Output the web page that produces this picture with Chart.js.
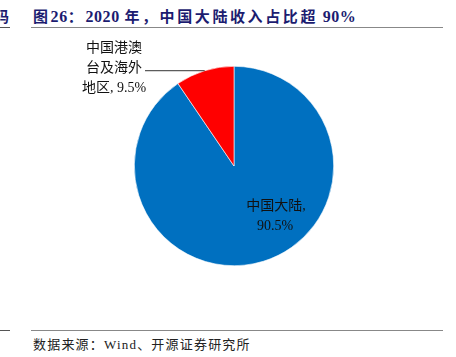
<!DOCTYPE html>
<html>
<head>
<meta charset="utf-8">
<script src="https://cdn.jsdelivr.net/npm/chart.js@4"></script>
<style>
  html, body { margin: 0; padding: 0; background: #fff; }
  #wrap { position: relative; width: 456px; height: 357px; overflow: hidden; }
  canvas { position: absolute; left: 0; top: 0; }
  .title { position: absolute; left: 33px; top: 5px; font: bold 15px "Liberation Serif", "Noto Sans CJK SC"; letter-spacing: 2.6px; color: #1c1c70; white-space: nowrap; }
  .title .n { font-size: 16px; letter-spacing: 0.6px; }
  .clip { position: absolute; left: -6px; top: 5px; font: bold 15px "Noto Sans CJK SC"; color: #1c1c70; }
  .rule { position: absolute; height: 0; border-top: 1.5px solid #888; }
  .src { position: absolute; left: 33px; top: 334px; font: 13px "Liberation Serif", "Noto Sans CJK SC"; letter-spacing: 1.2px; color: #222; white-space: nowrap; }
</style>
</head>
<body>
<div id="wrap">
  <div class="clip">码</div>
  <div class="title">图<span class="n">26</span>：<span class="n">2020 </span>年，中国大陆收入占比超<span class="n"> 90%</span></div>
  <div class="rule" style="left:0;width:10px;top:27px;border-color:#555"></div>
  <div class="rule" style="left:31px;width:412px;top:27px"></div>
  <div class="rule" style="left:0;width:10px;top:330px;border-color:#555"></div>
  <div class="rule" style="left:31px;width:412px;top:330px"></div>
  <div class="src">数据来源：Wind、开源证券研究所</div>
  <canvas id="pieChart" width="456" height="357"></canvas>
</div>
<script>
// --- Data ---
const regions = ['中国大陆', '中国港澳台及海外地区'];
const shares = [90.5, 9.5];
const sliceColors = ['#0070C0', '#FF0000'];

// --- Label plugin: text inside big slice, leader line for small slice ---
const sliceLabels = {
    id: 'sliceLabels',
    afterDatasetsDraw(chart) {
        const ctx = chart.ctx;
        const arcs = chart.getDatasetMeta(0).data;
        ctx.save();
        ctx.fillStyle = '#111';
        ctx.font = '14px "Liberation Serif", "Noto Sans CJK SC"';
        ctx.textAlign = 'center';
        ctx.textBaseline = 'middle';

        // big slice label
        const a0 = arcs[0];
        ctx.fillText(regions[0] + ',', a0.x + 42, a0.y + 40);
        ctx.fillText(shares[0].toFixed(1) + '%', a0.x + 41, a0.y + 60);

        // small slice label with leader
        const a1 = arcs[1];
        const mid = (a1.startAngle + a1.endAngle) / 2;
        const ex = a1.x + Math.cos(mid) * a1.outerRadius;
        const ey = a1.y + Math.sin(mid) * a1.outerRadius;
        const lx = a1.x - 89;
        ctx.strokeStyle = '#333';
        ctx.lineWidth = 1;
        ctx.beginPath();
        ctx.moveTo(ex, ey);
        ctx.lineTo(lx, ey);
        ctx.stroke();
        const tx = lx - 31;
        ctx.fillText('中国港澳', tx, a1.y - 118);
        ctx.fillText('台及海外', tx, a1.y - 98);
        ctx.fillText('地区, ' + shares[1].toFixed(1) + '%', tx, a1.y - 78);
        ctx.restore();
    }
};

const ctx = document.getElementById('pieChart').getContext('2d');
new Chart(ctx, {
    type: 'pie',
    data: {
        labels: regions,
        datasets: [{
            data: shares,
            backgroundColor: sliceColors,
            borderColor: '#ffffff',
            borderWidth: 0.6
        }]
    },
    options: {
        responsive: false,
        animation: false,
        layout: { padding: { left: 134, right: 122, top: 66, bottom: 91 } },
        plugins: {
            legend: { display: false },
            tooltip: { enabled: false }
        }
    },
    plugins: [sliceLabels]
});
</script>
</body>
</html>
